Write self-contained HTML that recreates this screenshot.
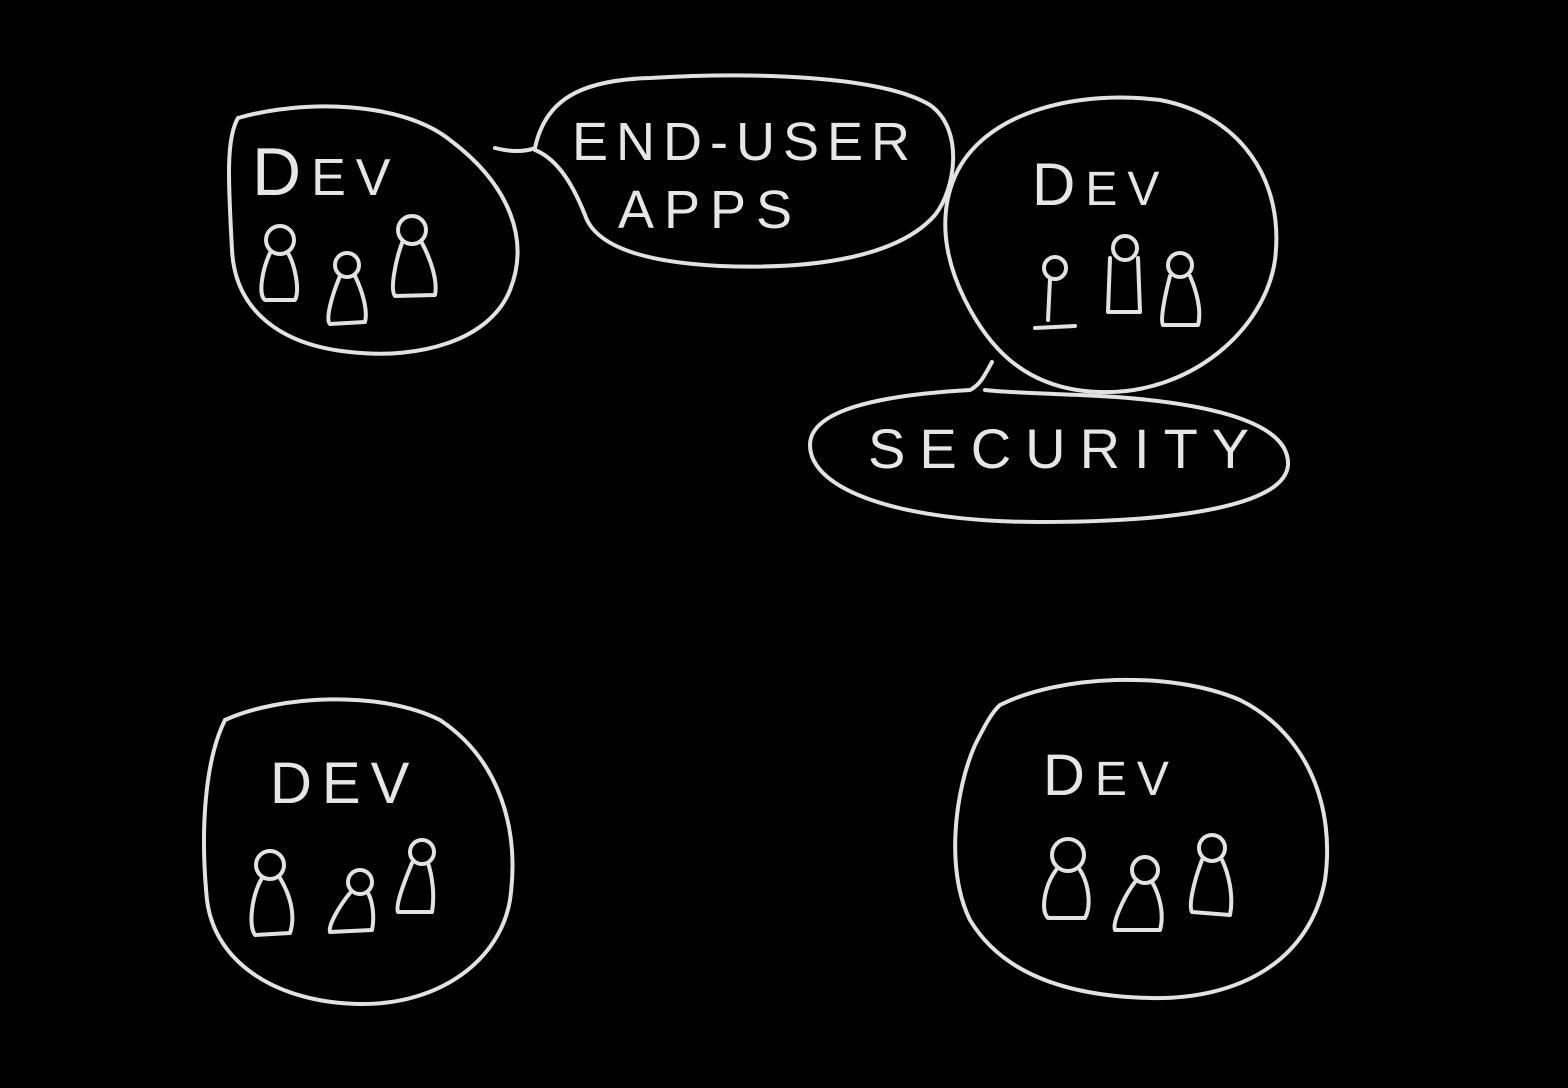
<!DOCTYPE html>
<html><head><meta charset="utf-8"><style>
html,body{margin:0;padding:0;background:#000;}
svg{display:block}
text{font-family:"Liberation Sans",sans-serif;fill:#e6e6e6;}
</style></head><body>
<svg width="1568" height="1088" viewBox="0 0 1568 1088" xmlns="http://www.w3.org/2000/svg">
<g fill="none" stroke="#e2e2e2" stroke-width="4" stroke-linecap="round" stroke-linejoin="round">
<path d="M238,118 C300,100 400,100 450,140 C510,185 530,240 510,290 C490,340 420,360 350,352 C280,345 235,310 232,250 C229,190 225,140 238,118"/>
<path d="M495,148 C510,152 525,152 535,148 C545,100 580,80 650,78 C750,72 880,75 930,105 C965,130 955,190 935,215 C900,255 820,270 720,266 C640,262 595,245 585,215 C575,190 560,160 535,150"/>
<path d="M958,170 C990,110 1080,90 1160,100 C1240,115 1285,180 1275,260 C1265,330 1190,395 1100,392 C1020,390 985,340 965,300 C940,250 940,205 958,170"/>
<path d="M992,362 C985,375 980,385 970,390 C880,395 810,410 810,445 C810,490 900,522 1040,522 C1180,522 1285,505 1288,465 C1290,420 1200,400 1080,395 C1030,393 1000,392 985,390"/>
<path d="M225,720 C280,695 380,690 440,720 C500,760 520,830 510,900 C500,960 440,1005 360,1004 C280,1003 215,965 207,900 C200,830 205,760 225,720"/>
<path d="M1000,705 C1060,675 1170,670 1240,700 C1310,735 1335,810 1325,880 C1310,960 1240,1000 1150,998 C1060,996 1000,970 970,920 C945,870 955,790 975,745 C985,725 992,712 1000,705"/>
<g>
<circle cx="280" cy="240" r="14"/><path d="M270,253 C262,270 258,295 265,300 L295,300 C300,290 295,265 288,253"/>
<circle cx="347" cy="265" r="12"/><path d="M340,276 C332,295 325,320 330,324 L365,322 C368,310 362,290 355,276"/>
<circle cx="412" cy="230" r="14"/><path d="M402,243 C395,262 390,290 395,296 L435,295 C438,280 430,258 422,243"/>
<circle cx="1055" cy="268" r="11"/><path d="M1050,279 L1048,320 M1035,328 L1075,326"/>
<circle cx="1125" cy="248" r="12"/><path d="M1110,258 L1108,312 L1140,312 L1138,258"/>
<circle cx="1180" cy="265" r="12"/><path d="M1170,276 C1165,295 1160,320 1163,325 L1198,325 C1202,310 1196,290 1190,276"/>
<circle cx="270" cy="865" r="14"/><path d="M262,878 C252,895 248,925 255,935 L290,933 C296,915 290,895 280,878"/>
<circle cx="360" cy="882" r="12"/><path d="M350,893 C340,905 328,925 330,932 L372,930 C375,915 372,900 368,893"/>
<circle cx="422" cy="852" r="12"/><path d="M412,863 C405,880 395,905 398,912 L432,912 C435,895 432,875 428,863"/>
<circle cx="1068" cy="855" r="16"/><path d="M1056,870 C1045,885 1040,910 1048,918 L1085,918 C1092,905 1088,882 1080,870"/>
<circle cx="1145" cy="870" r="13"/><path d="M1135,882 C1125,895 1112,922 1115,930 L1160,930 C1165,912 1158,892 1152,882"/>
<circle cx="1212" cy="848" r="13"/><path d="M1202,860 C1195,878 1188,905 1192,912 L1230,915 C1234,895 1228,872 1222,860"/>
</g>
</g>
<g font-size="58" letter-spacing="10">
<text x="252" y="195" font-size="68">D<tspan font-size="52">EV</tspan></text>
<text x="1032" y="205" font-size="60">D<tspan font-size="48">EV</tspan></text>
<text x="270" y="803">DEV</text>
<text x="1043" y="795">D<tspan font-size="48">EV</tspan></text>
</g>
<text x="572" y="160" font-size="54" letter-spacing="8">END-USER</text>
<text x="618" y="228" font-size="54" letter-spacing="10">APPS</text>
<text x="868" y="468" font-size="56" letter-spacing="14">SECURITY</text>
</svg>
</body></html>
